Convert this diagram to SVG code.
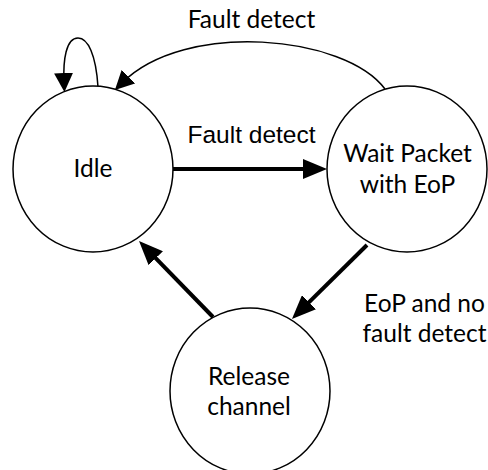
<svg xmlns="http://www.w3.org/2000/svg" width="488" height="470" viewBox="0 0 488 470">
<style>
.node{fill:#fff;stroke:#000;stroke-width:1.5}
.lbl{font-family:Lato,"Liberation Sans",sans-serif;font-size:24.5px;fill:#000;text-anchor:middle}
.arial{font-family:"Liberation Sans",Arial,sans-serif;font-size:24.5px;fill:#000;text-anchor:middle}
.thin{fill:none;stroke:#000;stroke-width:1.5}
.thick{fill:none;stroke:#000;stroke-width:4}
</style>
<defs>
<marker id="ah" markerUnits="userSpaceOnUse" viewBox="0 0 19 19" markerWidth="19" markerHeight="19" refX="9" refY="9.5" orient="auto">
<path d="M0,0 L19,9.5 L0,19 z" fill="#000"/>
</marker>
<marker id="ahb" markerUnits="userSpaceOnUse" viewBox="0 0 24 20" markerWidth="24" markerHeight="20" refX="12" refY="10" orient="auto">
<path d="M0,0 L24,10 L0,20 z" fill="#000"/>
</marker>
</defs>
<g id="connectors">
<path class="thin" d="M98,87 C96,55 88,38 78,38 C66,38 63,60 64,82" marker-end="url(#ah)"/>
<path class="thin" d="M385,89 C345,35 185,20 122,83" marker-end="url(#ah)"/>
<path class="thick" d="M173,169 L315,169" marker-end="url(#ahb)"/>
<path class="thick" d="M367,245 L300.5,310.6" marker-end="url(#ahb)"/>
<path class="thick" d="M213,317 L147.4,249.6" marker-end="url(#ahb)"/>
<text class="lbl" x="251.5" y="28">Fault detect</text>
<text class="arial" x="251.5" y="143">Fault detect</text>
<text class="lbl" x="424.5" y="312">EoP and no</text>
<text class="lbl" x="424.5" y="342">fault detect</text>
</g>
<g id="idle">
<ellipse class="node" cx="93" cy="169" rx="80" ry="83"/>
<text class="lbl" x="93" y="177">Idle</text>
</g>
<g id="wait">
<ellipse class="node" cx="407" cy="169" rx="80" ry="83"/>
<text class="lbl" x="407.5" y="162">Wait Packet</text>
<text class="lbl" x="407.5" y="193">with EoP</text>
</g>
<g id="release">
<ellipse class="node" cx="250" cy="391" rx="80" ry="83"/>
<text class="lbl" x="249" y="385">Release</text>
<text class="lbl" x="249" y="415">channel</text>
</g>
</svg>
